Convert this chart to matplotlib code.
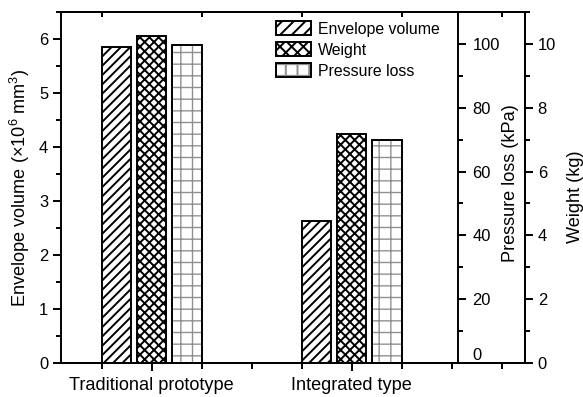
import matplotlib
matplotlib.use('Agg')
import matplotlib.pyplot as plt
from matplotlib.patches import Patch
from matplotlib.legend_handler import HandlerTuple
from matplotlib.ticker import MultipleLocator, FixedLocator

plt.rcParams['font.family'] = ['Liberation Sans', 'DejaVu Sans']
plt.rcParams['mathtext.fontset'] = 'custom'
plt.rcParams['mathtext.rm'] = 'Liberation Sans'
plt.rcParams['mathtext.it'] = 'Liberation Sans:italic'
plt.rcParams['hatch.linewidth'] = 1.0

# data
categories = ['Traditional prototype', 'Integrated type']
envelope_volume = [5.86, 2.63]   # x10^6 mm^3
weight = [10.26, 7.19]           # kg
pressure_loss = [99.8, 69.8]     # kPa

DPI = 140
fig = plt.figure(figsize=(583 / DPI, 397 / DPI), dpi=DPI)
ax = fig.add_axes([61 / 583, 34 / 397, 464 / 583, 351 / 397])
ax_p = ax.twinx()
ax_w = ax.twinx()

x = [1, 2]
w = 0.147
off = 0.177
lw = 1.0
fs_tick = 8.5
fs_lab = 9.3
grid_col = '#8f8f8f'


def thin_hatch(patches, width):
    # per-artist hatch width where the matplotlib version allows it
    for p in patches:
        if hasattr(p, 'set_hatch_linewidth'):
            p.set_hatch_linewidth(width)


ax.bar([i - off for i in x], envelope_volume, w, facecolor='white',
       edgecolor='black', linewidth=lw, hatch='/////')
ax_w.bar(x, weight, w, facecolor='white', edgecolor='black',
         linewidth=lw, hatch='xxxxx')
# pressure loss: light grid texture + black outline
pg = ax_p.bar([i + off for i in x], pressure_loss, w, facecolor='white',
              edgecolor=grid_col, linewidth=0, hatch='++')
thin_hatch(pg, 0.7)
ax_p.bar([i + off for i in x], pressure_loss, w, fill=False,
         edgecolor='black', linewidth=lw)

ax.set_xlim(0.5465, 2.8665)
ax.set_ylim(0, 6.5)
ax_p.set_ylim(0, 110)
ax_w.set_ylim(0, 11)

for a in (ax, ax_p, ax_w):
    for s in a.spines.values():
        s.set_linewidth(1.0)

ax_p.spines['right'].set_position(('axes', 397 / 464))
ax_p.spines['left'].set_visible(False)
ax_p.spines['top'].set_visible(False)
ax_p.spines['bottom'].set_visible(False)
ax_w.spines['left'].set_visible(False)

# x axis
ax.set_xticks(x)
ax.set_xticklabels(categories, fontsize=fs_lab)
ax.xaxis.set_minor_locator(FixedLocator([0.75, 1.25, 1.5, 1.75, 2.25, 2.5, 2.75]))
ax.tick_params(axis='x', which='major', direction='out', length=4, width=1.0, pad=3)
ax.tick_params(axis='x', which='minor', direction='out', length=3, width=1.0)
top = ax.secondary_xaxis('top')
top.set_xticks([0.75, 1.25, 1.75, 2.25, 2.75])
top.set_xticklabels([])
top.tick_params(direction='in', length=2.5, width=1.0)
top.spines['top'].set_linewidth(1.0)

# left axis
ax.yaxis.set_major_locator(MultipleLocator(1))
ax.yaxis.set_minor_locator(MultipleLocator(0.5))
ax.tick_params(axis='y', which='major', direction='out', length=4, width=1.0,
               pad=2.5, labelsize=fs_tick)
ax.tick_params(axis='y', which='minor', direction='out', length=2.5, width=1.0)
ax.set_ylabel('Envelope volume (×10$^6$ mm$^3$)', fontsize=fs_lab)
ax.yaxis.set_label_coords(-0.0625, 0.5)

# pressure loss axis (inside the frame)
ax_p.set_yticks([0, 20, 40, 60, 80, 100])
ax_p.yaxis.set_minor_locator(MultipleLocator(10))
ax_p.tick_params(axis='y', which='major', direction='out', length=4, width=1.0,
                 pad=3.5, labelsize=fs_tick)
ax_p.tick_params(axis='y', which='minor', direction='out', length=2.5, width=1.0)
ax_p.get_yticklabels()[0].set_verticalalignment('bottom')
ax_p.set_ylabel('Pressure loss (kPa)', fontsize=fs_lab)
ax_p.yaxis.set_label_coords(0.9504, 0.513)

# weight axis
ax_w.set_yticks([0, 2, 4, 6, 8, 10])
ax_w.yaxis.set_minor_locator(MultipleLocator(1))
ax_w.tick_params(axis='y', which='major', direction='out', length=4, width=1.0,
                 pad=2.5, labelsize=fs_tick)
ax_w.tick_params(axis='y', which='minor', direction='out', length=2.5, width=1.0)
ax_w.set_ylabel('Weight (kg)', fontsize=fs_lab)
ax_w.yaxis.set_label_coords(1.0905, 0.473)

h_env = Patch(facecolor='white', edgecolor='black', linewidth=lw, hatch='////')
h_w = Patch(facecolor='white', edgecolor='black', linewidth=lw, hatch='xxxx')
h_pg = Patch(facecolor='white', edgecolor=grid_col, linewidth=0, hatch='++')
thin_hatch([h_pg], 0.7)
h_p = (h_pg, Patch(fill=False, edgecolor='black', linewidth=lw))
fig.legend([h_env, h_w, h_p], ['Envelope volume', 'Weight', 'Pressure loss'],
           handler_map={tuple: HandlerTuple(ndivide=1)},
           loc='upper left', bbox_to_anchor=(265 / 583, 1 - 10 / 397),
           frameon=False, fontsize=8.2, handlelength=2.2, handleheight=0.95,
           handletextpad=0.45, labelspacing=0.36, borderpad=0.2)

fig.savefig('out.png', dpi=DPI)
